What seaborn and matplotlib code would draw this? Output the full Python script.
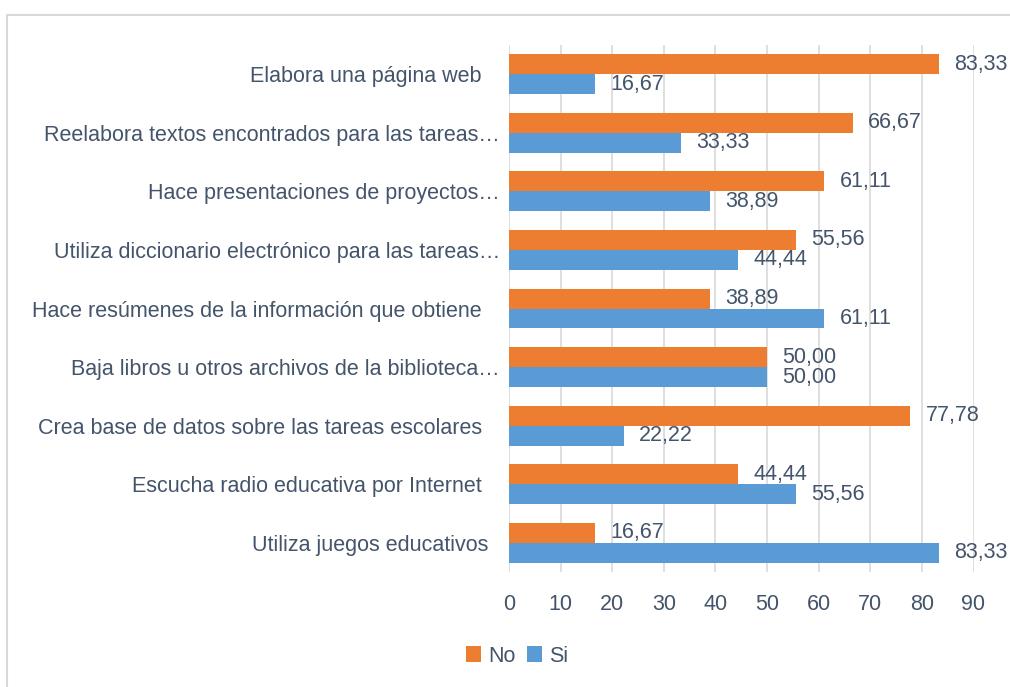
import matplotlib
matplotlib.use("Agg")
import matplotlib.pyplot as plt
import seaborn as sns
import pandas as pd
from matplotlib.patches import Rectangle, Patch

categories = [
    "Elabora una página web   ",
    "Reelabora textos encontrados para las tareas…",
    "Hace presentaciones de proyectos…",
    "Utiliza diccionario electrónico para las tareas…",
    "Hace resúmenes de la información que obtiene   ",
    "Baja libros u otros archivos de la biblioteca…",
    "Crea base de datos sobre las tareas escolares   ",
    "Escucha radio educativa por Internet   ",
    "Utiliza juegos educativos  ",
]
no_values = [83.33, 66.67, 61.11, 55.56, 38.89, 50.00, 77.78, 44.44, 16.67]
si_values = [16.67, 33.33, 38.89, 44.44, 61.11, 50.00, 22.22, 55.56, 83.33]
series = ["No", "Si"]
xticks = [0, 10, 20, 30, 40, 50, 60, 70, 80, 90]

colors = {"No": "#ED7D31", "Si": "#5B9BD5"}
text_color = "#44546A"

df = pd.DataFrame({
    "cat": categories * 2,
    "val": no_values + si_values,
    "serie": ["No"] * len(categories) + ["Si"] * len(categories),
})

sns.set_theme(style="white")
plt.rcParams["font.family"] = ["Liberation Sans", "DejaVu Sans"]
fs = 15.5

W, H = 1010, 687
fig = plt.figure(figsize=(W / 100, H / 100), dpi=100)
ax = fig.add_axes([509 / W, 1 - 572 / H, (973.5 - 509) / W, (572 - 45) / H])

sns.barplot(data=df, y="cat", x="val", hue="serie", hue_order=series,
            order=categories, palette=colors, width=0.68, orient="h",
            errorbar=None, saturation=1, ax=ax, legend=False, zorder=3,
            linewidth=0, edgecolor="none")

for cont in ax.containers:
    labels = [f"{b.get_width():.2f}".replace(".", ",") for b in cont]
    ax.bar_label(cont, labels=labels, padding=11, fontsize=fs, color=text_color)

ax.set_xlim(0, 90)
ax.set_xticks(xticks)
ax.set_xticklabels([str(t) for t in xticks])
ax.set_xlabel("")
ax.set_ylabel("")
ax.grid(axis="x", color="#D9D9D9", lw=1.2, zorder=0)
ax.grid(axis="y", visible=False)
for s in ax.spines.values():
    s.set_visible(False)
ax.tick_params(axis="y", length=0, pad=6.5, labelsize=fs, labelcolor=text_color)
ax.tick_params(axis="x", length=0, pad=15.5, labelsize=fs, labelcolor=text_color)

handles = [Patch(facecolor=colors[s], edgecolor="none", label=s) for s in series]
fig.legend(handles=handles, loc="center", bbox_to_anchor=(517 / W, 1 - 656 / H),
           ncol=2, frameon=False, fontsize=fs, labelcolor=text_color,
           handlelength=0.7, handleheight=0.7, handletextpad=0.35,
           columnspacing=0.5)

fig.add_artist(Rectangle((7 / W, -0.1), 1.2, 1 - 15 / H + 0.1,
                         transform=fig.transFigure, fill=False,
                         edgecolor="#D9D9D9", lw=1.5))

fig.savefig("out.png", dpi=100, facecolor="white")
